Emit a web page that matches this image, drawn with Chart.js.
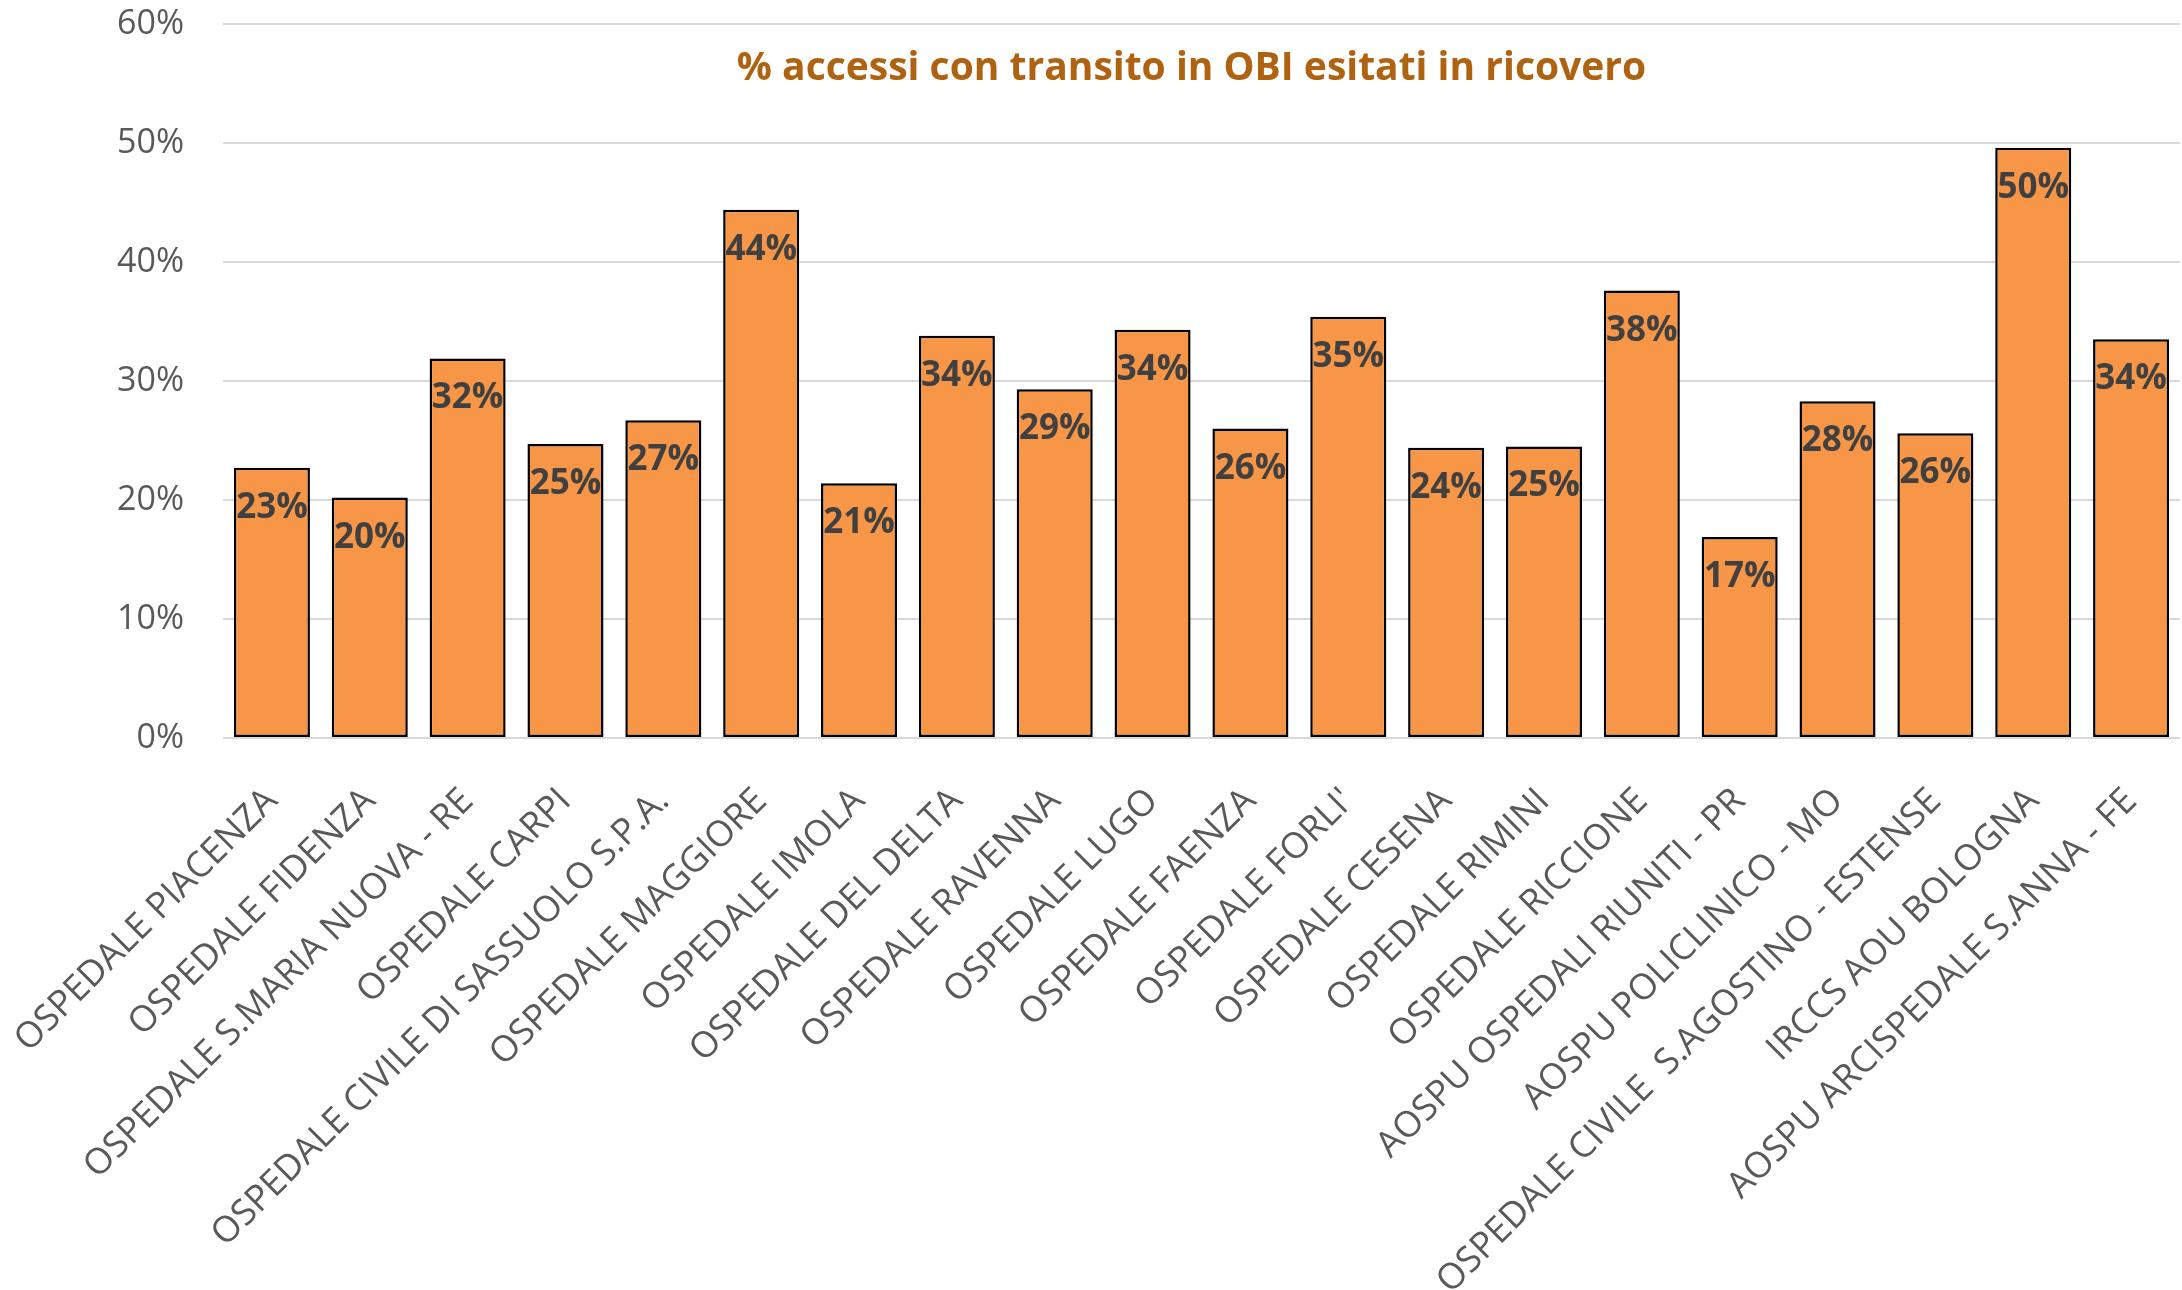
<!DOCTYPE html>
<html><head><meta charset="utf-8">
<script src="https://cdn.jsdelivr.net/npm/chart.js@4.4.1/dist/chart.umd.min.js"></script>
<style>html,body{margin:0;padding:0;background:#fff;overflow:hidden}#wrap{width:2182px;height:1290px;position:relative}</style>
</head><body><div id="wrap"><canvas id="c" width="2182" height="1290"></canvas></div>
<script>
const chartTitle = "% accessi con transito in OBI esitati in ricovero";
const categories = [
  "OSPEDALE PIACENZA",
  "OSPEDALE FIDENZA",
  "OSPEDALE S.MARIA NUOVA - RE",
  "OSPEDALE CARPI",
  "OSPEDALE CIVILE DI SASSUOLO S.P.A.",
  "OSPEDALE MAGGIORE",
  "OSPEDALE IMOLA",
  "OSPEDALE DEL DELTA",
  "OSPEDALE RAVENNA",
  "OSPEDALE LUGO",
  "OSPEDALE FAENZA",
  "OSPEDALE FORLI'",
  "OSPEDALE CESENA",
  "OSPEDALE RIMINI",
  "OSPEDALE RICCIONE",
  "AOSPU OSPEDALI RIUNITI - PR",
  "AOSPU POLICLINICO - MO",
  "OSPEDALE CIVILE  S.AGOSTINO - ESTENSE",
  "IRCCS AOU BOLOGNA",
  "AOSPU ARCISPEDALE S.ANNA - FE"
];
const values = [0.227, 0.202, 0.319, 0.247, 0.267, 0.444, 0.214, 0.338, 0.293, 0.343,
                0.260, 0.354, 0.244, 0.245, 0.376, 0.169, 0.283, 0.256, 0.496, 0.335];
const yMin = 0, yMax = 0.6, yStep = 0.1;

const pct = v => Math.round(v * 100) + '%';

const overlay = {
  id: 'overlay',
  afterDatasetsDraw(chart) {
    const ctx = chart.ctx;
    const meta = chart.getDatasetMeta(0);
    ctx.save();
    ctx.font = 'bold 35px "Open Sans"';
    ctx.fillStyle = '#404040';
    ctx.textAlign = 'center';
    ctx.textBaseline = 'middle';
    meta.data.forEach((bar, i) => {
      ctx.fillText(pct(values[i]), bar.x, bar.y + 40);
    });
    const ys = chart.scales.y;
    const ca = chart.chartArea;
    ctx.font = 'bold 39px "Open Sans"';
    ctx.fillStyle = '#AF6210';
    ctx.fillText(chartTitle, (ca.left + ca.right) / 2 - 10, ys.getPixelForValue(0.562));
    ctx.restore();
  }
};

function draw() {
  new Chart(document.getElementById('c'), {
    type: 'bar',
    data: {
      labels: categories,
      datasets: [{
        data: values,
        backgroundColor: '#F79646',
        borderColor: '#000000',
        borderWidth: 2.5,
        borderSkipped: false,
        categoryPercentage: 1,
        barPercentage: 0.777
      }]
    },
    options: {
      responsive: false,
      animation: false,
      devicePixelRatio: 1,
      layout: { padding: { top: 24, right: 2, left: 0, bottom: 0 } },
      plugins: { legend: { display: false }, title: { display: false }, tooltip: { enabled: false } },
      scales: {
        x: {
          offset: true,
          grid: { display: false, drawTicks: false },
          border: { display: false },
          ticks: {
            autoSkip: false, maxRotation: 45, minRotation: 45, padding: 42,
            color: '#595959', font: { family: 'Open Sans', size: 36 }
          },
          afterFit(s) {
            s.height = 1290 - 738;
            s.paddingTop = 0; s.paddingBottom = 0; s.paddingLeft = 0; s.paddingRight = 0;
          }
        },
        y: {
          min: yMin, max: yMax,
          grid: { color: '#D9D9D9', lineWidth: 2, drawTicks: false },
          border: { display: false },
          ticks: {
            stepSize: yStep, padding: 39, color: '#595959',
            font: { family: 'Open Sans', size: 34 },
            callback: v => pct(v)
          },
          afterFit(s) {
            s.width = 223;
            s.paddingTop = 0; s.paddingBottom = 0; s.paddingLeft = 0; s.paddingRight = 0;
          }
        }
      }
    },
    plugins: [overlay]
  });
}
Promise.all([
  document.fonts.load('34px "Open Sans"'),
  document.fonts.load('36px "Open Sans"'),
  document.fonts.load('bold 35px "Open Sans"')
]).then(draw, draw);
</script></body></html>
